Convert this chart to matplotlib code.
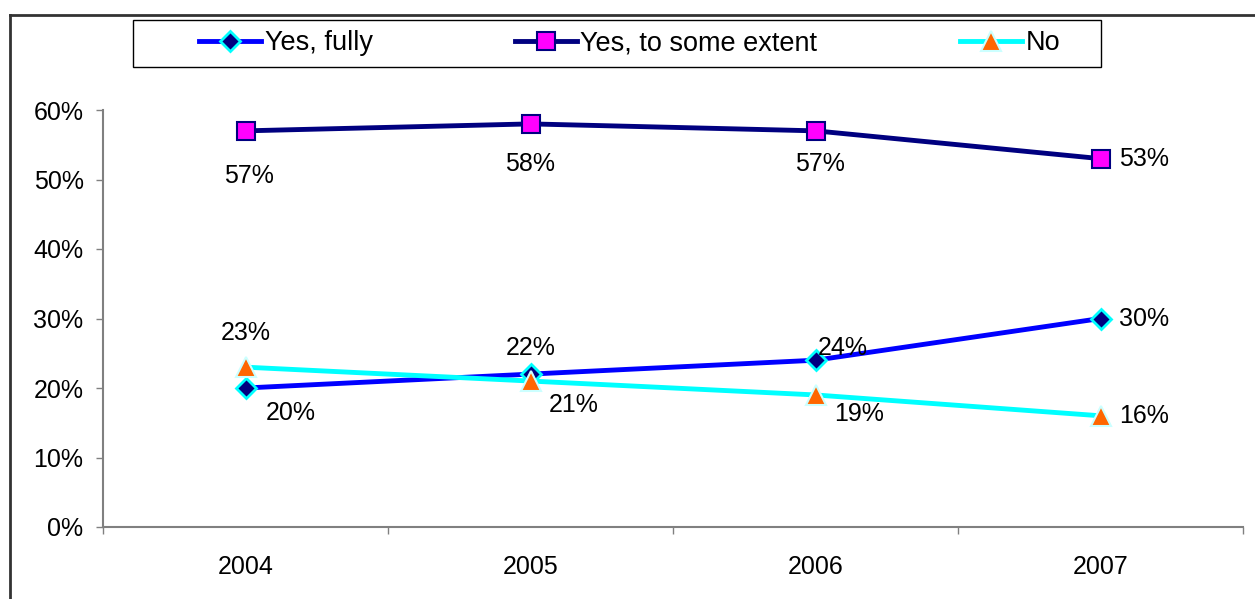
import matplotlib
matplotlib.use("Agg")
import matplotlib.pyplot as plt
from matplotlib.lines import Line2D
from matplotlib.patches import Rectangle
from matplotlib.ticker import FixedLocator, PercentFormatter

plt.rcParams['font.family'] = ['Liberation Sans', 'DejaVu Sans']
plt.rcParams['font.size'] = 18

years = ["2004", "2005", "2006", "2007"]
fully = [20, 22, 24, 30]
some_extent = [57, 58, 57, 53]
no = [23, 21, 19, 16]

# label offsets (pixels) for each point's value text
off_fully = [(45, -25), (0, 26), (27, 12), (44, 0)]
off_some = [(3, -45), (0, -40), (4, -33), (44, 0)]
off_no = [(0, 34), (43, -24), (44, -19), (44, 0)]

W, H = 1255, 599
fig = plt.figure(figsize=(W/100, H/100), dpi=100)
ax = fig.add_axes([103/W, 1-527/H, 1140/W, 417/H])

x = range(len(years))

series = [
    ("Yes, fully", fully, off_fully,
     dict(color="#0000FF", marker="D", markersize=10.5, markerfacecolor="#000080",
          markeredgecolor="#00FFFF", markeredgewidth=2)),
    ("Yes, to some extent", some_extent, off_some,
     dict(color="#000080", marker="s", markersize=12.5, markerfacecolor="#FF00FF",
          markeredgecolor="#000080", markeredgewidth=1.5)),
    ("No", no, off_no,
     dict(color="#00FFFF", marker="^", markersize=14, markerfacecolor="#FF6600",
          markeredgecolor="#CCFFFF", markeredgewidth=1.5)),
]

for name, vals, offs, style in series:
    ax.plot(x, vals, linewidth=3.5, label=name, **style)
    for xi, v, (dx, dy) in zip(x, vals, offs):
        ax.annotate(f"{v}%", (xi, v), xytext=(dx, dy), textcoords="offset pixels",
                    ha="center", va="center", fontsize=18)

ax.set_xlim(-0.5, 3.5)
ax.set_ylim(0, 60)
ax.yaxis.set_major_locator(FixedLocator(range(0, 61, 10)))
ax.yaxis.set_major_formatter(PercentFormatter(decimals=0))
ax.set_xticks(list(x))
ax.set_xticklabels(years)
ax.xaxis.set_minor_locator(FixedLocator([-0.5, 0.5, 1.5, 2.5, 3.5]))
ax.tick_params(axis="x", which="major", length=0, pad=20)
ax.tick_params(axis="x", which="minor", length=5, width=1, color="#808080", direction="out")
ax.tick_params(axis="y", length=5, width=1, color="#808080", pad=9)

for side in ["top", "right"]:
    ax.spines[side].set_visible(False)
for side in ["left", "bottom"]:
    ax.spines[side].set_color("#808080")
    ax.spines[side].set_linewidth(1.5)

# legend entries spread across the box, box drawn separately
fig.add_artist(Rectangle((133/W, 1-67/H), 968/W, 47/H, transform=fig.transFigure,
                         facecolor="white", edgecolor="black", linewidth=1))
leg = fig.legend(loc="center", ncol=3, mode="expand",
                 bbox_to_anchor=(199/W, 1-67/H, 861/W, 47/H),
                 handlelength=2.3, handletextpad=0.12,
                 borderpad=0, borderaxespad=0,
                 frameon=False, fontsize=19.5)

# outer frame around the chart
fig.add_artist(Line2D([10/W, 10/W], [0, 1-15/H], color="#333333", linewidth=2))
fig.add_artist(Line2D([10/W, 1], [1-15/H, 1-15/H], color="#333333", linewidth=2))

fig.savefig("out.png", dpi=100)
